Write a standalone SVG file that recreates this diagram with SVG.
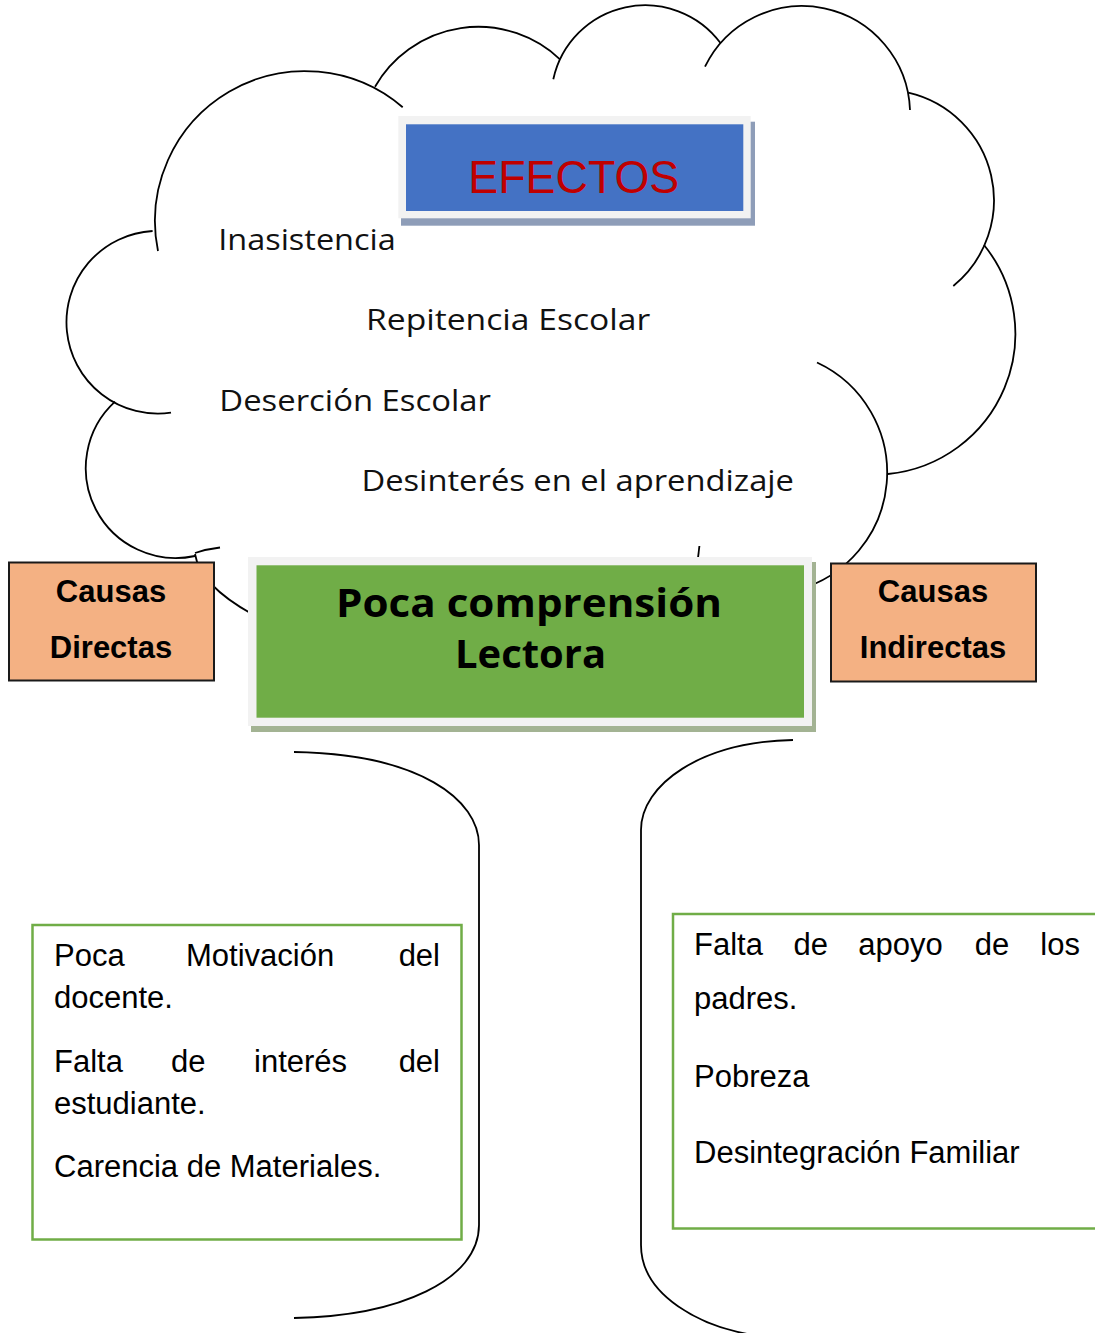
<svg xmlns="http://www.w3.org/2000/svg" width="1095" height="1333" viewBox="0 0 1095 1333">
<style>
.ln{fill:none;stroke:#000;stroke-width:1.8}
.cl{font-family:"Open Sans","DejaVu Sans",sans-serif;font-size:30px;fill:#111}
.body{font-family:"Liberation Sans",Arial,sans-serif;font-size:31px;fill:#000}
.cz{font-family:"Liberation Sans",Arial,sans-serif;font-size:31px;font-weight:bold;fill:#000;text-anchor:middle}
.cbox{fill:#F4B183;stroke:#1a1a1a;stroke-width:2}
.gbox{fill:none;stroke:#70AD47;stroke-width:2.5}
</style>
<rect width="1095" height="1333" fill="#fff"/>
<g id="connectors">
  <!-- cloud outline -->
  <path class="ln" d="M158,251 A150,150 0 0 1 402.7,107.3"/>
  <path class="ln" d="M375,86.7 A119,119 0 0 1 560,59.3"/>
  <path class="ln" d="M553.3,79.3 A94,94 0 0 1 720.7,43.3"/>
  <path class="ln" d="M705,66.7 A108,108 0 0 1 910,110"/>
  <path class="ln" d="M908.3,92.7 A110.5,110.5 0 0 1 953.3,286"/>
  <path class="ln" d="M984,245 A141,141 0 0 1 888,474"/>
  <path class="ln" d="M817,362.5 A121.5,121.5 0 0 1 797,590"/>
  <path class="ln" d="M152.6,231 A91.4,91.4 0 1 0 171,412.7"/>
  <path class="ln" d="M115,401.7 A90,90 0 0 0 195,556"/>
  <path class="ln" d="M195,553 Q207,549 220,547.5"/>
  <path class="ln" d="M195,554 Q200,585 252,614"/>
  <path class="ln" d="M699.4,546 L698,558"/>
  <!-- trunk -->
  <path class="ln" d="M294,752 C420,754 479,800 479,845 L479,1225 C479,1280 400,1316 294,1318"/>
  <path class="ln" d="M793,740 C700,742 641,785 641,830 L641,1245 C641,1295 700,1328 760,1336"/>
</g>
<g id="efectos">
  <rect x="401" y="121.7" width="354" height="104" fill="#8E9DB8"/>
  <rect x="398.3" y="116" width="352.4" height="102.3" fill="#F2F2F2"/>
  <rect x="406" y="124.3" width="337.3" height="86.7" fill="#4472C4"/>
  <text x="468.3" y="192.7" font-family="Liberation Sans,Arial,sans-serif" font-size="47" fill="#C00000" textLength="211" lengthAdjust="spacingAndGlyphs">EFECTOS</text>
</g>
<g id="effects-list">
  <text class="cl" x="218.2" y="250" textLength="177.6" lengthAdjust="spacingAndGlyphs">Inasistencia</text>
  <text class="cl" x="366" y="330" textLength="284.3" lengthAdjust="spacingAndGlyphs">Repitencia Escolar</text>
  <text class="cl" x="219.3" y="410.7" textLength="271.7" lengthAdjust="spacingAndGlyphs">Deserción Escolar</text>
  <text class="cl" x="361.4" y="490.7" textLength="432.6" lengthAdjust="spacingAndGlyphs">Desinterés en el aprendizaje</text>
</g>
<g id="causas-directas">
  <rect class="cbox" x="9" y="562.5" width="205" height="118"/>
  <text class="cz" x="111" y="602.3">Causas</text>
  <text class="cz" x="111" y="658.3">Directas</text>
</g>
<g id="causas-indirectas">
  <rect class="cbox" x="831" y="563.5" width="205" height="118"/>
  <text class="cz" x="933" y="602.3">Causas</text>
  <text class="cz" x="933" y="658.3">Indirectas</text>
</g>
<g id="problema">
  <rect x="251" y="562" width="565" height="170" fill="#A3B393"/>
  <rect x="248" y="557" width="564" height="169" fill="#F2F2F2"/>
  <rect x="256.5" y="565.3" width="547.5" height="152.4" fill="#70AD47"/>
  <text x="336" y="616.7" font-family="Open Sans,DejaVu Sans,sans-serif" font-weight="bold" font-size="40" fill="#000" textLength="386" lengthAdjust="spacingAndGlyphs">Poca comprensión</text>
  <text x="455" y="667.7" font-family="Open Sans,DejaVu Sans,sans-serif" font-weight="bold" font-size="40" fill="#000" textLength="151" lengthAdjust="spacingAndGlyphs">Lectora</text>
</g>
<g id="directas-list">
  <rect class="gbox" x="32.5" y="925" width="429" height="314.5"/>
  <text class="body" x="54" y="966">Poca</text>
  <text class="body" x="186" y="966">Motivación</text>
  <text class="body" x="440" y="966" text-anchor="end">del</text>
  <text class="body" x="54" y="1008">docente.</text>
  <text class="body" x="54" y="1072">Falta</text>
  <text class="body" x="171" y="1072">de</text>
  <text class="body" x="254" y="1072">interés</text>
  <text class="body" x="440" y="1072" text-anchor="end">del</text>
  <text class="body" x="54" y="1114">estudiante.</text>
  <text class="body" x="54" y="1177">Carencia de Materiales.</text>
</g>
<g id="indirectas-list">
  <rect class="gbox" x="673" y="914" width="440" height="314.5"/>
  <text class="body" x="694" y="955">Falta</text>
  <text class="body" x="793.4" y="955">de</text>
  <text class="body" x="858.3" y="955">apoyo</text>
  <text class="body" x="974.8" y="955">de</text>
  <text class="body" x="1080" y="955" text-anchor="end">los</text>
  <text class="body" x="694" y="1009">padres.</text>
  <text class="body" x="694" y="1087">Pobreza</text>
  <text class="body" x="694" y="1163">Desintegración Familiar</text>
</g>
</svg>
